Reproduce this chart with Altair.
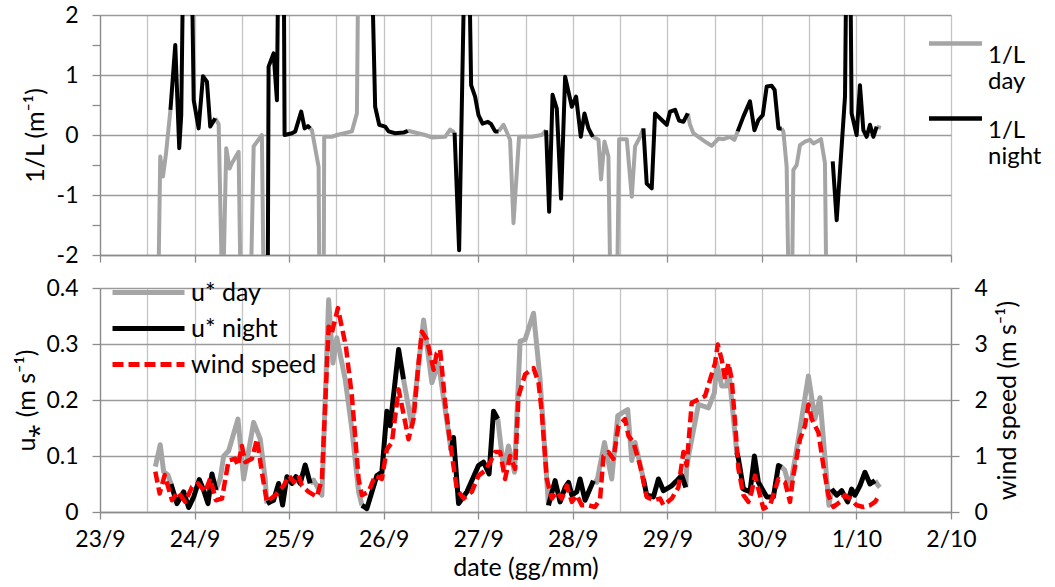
import json
import altair as alt
import pandas as pd

# ---------------- data (time = days since 23/9 00:00) ----------------
DATE_LABELS = ["23/9", "24/9", "25/9", "26/9", "27/9", "28/9", "29/9", "30/9", "1/10", "2/10"]

# 1/L (m-1), day periods (segments)
INVL_DAY = [
    [(0.613, -3), (0.637, -0.36), (0.666, -0.69), (0.698, -0.31), (0.745, 0.42)],
    [(1.219, 0.28), (1.255, 0.18), (1.297, -3), (1.335, -0.22), (1.371, -0.56), (1.395, -0.47),
     (1.466, -0.28), (1.491, -3), (1.589, -3), (1.625, -0.19), (1.712, 0.0), (1.734, -3)],
    [(2.223, 0.11), (2.241, 0.08), (2.312, -0.53), (2.322, -3), (2.365, -3), (2.371, -0.03),
     (2.452, -0.03), (2.505, 0.0), (2.664, 0.06), (2.717, 0.36), (2.735, 3.5)],
    [(3.256, 0.07), (3.439, 0.0), (3.510, -0.04), (3.650, -0.03), (3.703, 0.09), (3.750, 0.04)],
    [(4.215, 0.06), (4.268, 0.17), (4.337, -0.08), (4.373, -1.47), (4.432, -0.03), (4.567, -0.03),
     (4.672, 0.0), (4.718, 0.08)],
    [(5.212, -0.03), (5.272, -0.08), (5.299, -0.74), (5.335, -0.11), (5.377, -0.36), (5.402, -3),
     (5.465, -3), (5.490, -0.07), (5.571, -0.07), (5.624, -1.03), (5.659, -0.19), (5.712, -0.03),
     (5.747, 0.11)],
    [(6.216, 0.36), (6.240, 0.17), (6.276, 0.03), (6.329, -0.03), (6.399, -0.11), (6.469, -0.18),
     (6.540, -0.06), (6.593, -0.07), (6.663, -0.03), (6.709, -0.08), (6.744, 0.06)],
    [(7.209, 0.11), (7.227, 0.06), (7.262, -0.53), (7.287, -3), (7.315, -3), (7.333, -0.58),
     (7.368, -0.5), (7.403, -0.17), (7.456, -0.11), (7.509, -0.08), (7.545, -0.14), (7.625, -0.07),
     (7.667, -0.47), (7.685, -3), (7.738, -3)],
    [(8.214, 0.14), (8.259, 0.12)],
]

# 1/L (m-1), night periods (segments)
INVL_NIGHT = [
    [(0.745, 0.42), (0.796, 1.5), (0.838, -0.22), (0.859, 0.33), (0.885, 3.5), (0.965, 3.5),
     (0.991, 0.58), (1.043, 0.11), (1.089, 0.98), (1.131, 0.89), (1.166, 0.14), (1.219, 0.28)],
    [(1.773, -3), (1.783, 1.14), (1.836, 1.36), (1.871, 0.58), (1.889, 3.5), (1.942, 3.5),
     (1.952, 0.0), (2.030, 0.03), (2.065, 0.06), (2.128, 0.39), (2.164, 0.11), (2.199, 0.15),
     (2.223, 0.11)],
    [(2.865, 3.5), (2.910, 0.47), (2.953, 0.17), (3.016, 0.14), (3.052, 0.06), (3.122, 0.03),
     (3.210, 0.04), (3.256, 0.07)],
    [(3.750, 0.04), (3.798, -1.92), (3.862, 3.5), (3.898, 3.5), (3.925, 0.83), (3.967, 0.64),
     (4.003, 0.33), (4.046, 0.19), (4.102, 0.22), (4.137, 0.18), (4.179, 0.06), (4.215, 0.06)],
    [(4.718, 0.08), (4.750, -1.28), (4.786, 0.67), (4.831, 0.44), (4.876, -1.06), (4.919, 0.97),
     (4.990, 0.47), (5.035, 0.64), (5.085, -0.03), (5.124, 0.36), (5.166, 0.11), (5.212, -0.03)],
    [(5.747, 0.11), (5.782, -0.81), (5.835, -0.89), (5.870, 0.36), (5.941, 0.25), (5.994, 0.17),
     (6.029, 0.39), (6.082, 0.42), (6.124, 0.24), (6.170, 0.22), (6.216, 0.36)],
    [(6.744, 0.06), (6.805, 0.31), (6.874, 0.56), (6.921, 0.08), (6.963, 0.25), (7.009, 0.33),
     (7.051, 0.81), (7.104, 0.82), (7.135, 0.75), (7.175, 0.11), (7.209, 0.11)],
    [(7.749, -0.44), (7.791, -1.42), (7.879, 0.64), (7.897, 3.5), (7.932, 3.5), (7.949, 0.36),
     (8.002, 0.0), (8.037, 0.83), (8.073, 0.08), (8.108, -0.03), (8.143, 0.17), (8.179, -0.03),
     (8.214, 0.14)],
]

# u* (m s-1), day periods
U_DAY = [
    [(0.585, 0.081), (0.637, 0.12), (0.673, 0.072), (0.719, 0.066), (0.751, 0.05)],
    [(1.226, 0.039), (1.272, 0.06), (1.308, 0.10), (1.360, 0.109), (1.459, 0.166), (1.519, 0.059),
     (1.625, 0.16), (1.695, 0.13), (1.747, 0.059), (1.765, 0.015)],
    [(2.223, 0.051), (2.259, 0.057), (2.347, 0.03), (2.418, 0.379), (2.463, 0.266), (2.505, 0.311),
     (2.593, 0.237), (2.664, 0.148), (2.735, 0.036), (2.770, 0.012)],
    [(3.210, 0.237), (3.298, 0.154), (3.422, 0.343), (3.510, 0.231), (3.580, 0.266), (3.713, 0.11)],
    [(4.207, 0.166), (4.268, 0.077), (4.320, 0.118), (4.384, 0.071), (4.443, 0.305), (4.496, 0.308),
     (4.585, 0.355), (4.654, 0.237), (4.743, 0.012)],
    [(5.219, 0.056), (5.254, 0.053), (5.335, 0.124), (5.412, 0.059), (5.476, 0.172), (5.581, 0.183),
     (5.624, 0.092), (5.659, 0.124), (5.747, 0.059)],
    [(6.195, 0.044), (6.205, 0.083), (6.329, 0.192), (6.435, 0.186), (6.498, 0.213), (6.522, 0.266),
     (6.575, 0.225), (6.628, 0.225), (6.646, 0.26), (6.734, 0.107)],
    [(7.209, 0.08), (7.241, 0.075), (7.297, 0.041), (7.403, 0.148), (7.492, 0.243), (7.561, 0.166),
     (7.614, 0.204), (7.709, 0.012), (7.738, 0.041)],
    [(8.196, 0.056), (8.232, 0.047), (8.248, 0.044)],
]

# u* (m s-1), night periods
U_NIGHT = [
    [(0.751, 0.05), (0.814, 0.015), (0.885, 0.036), (0.938, 0.008), (0.991, 0.027), (1.050, 0.058),
     (1.096, 0.039), (1.142, 0.015), (1.184, 0.068), (1.226, 0.039)],
    [(1.765, 0.015), (1.836, 0.021), (1.889, 0.051), (1.931, 0.0125), (1.977, 0.063), (2.030, 0.051),
     (2.072, 0.063), (2.117, 0.051), (2.170, 0.084), (2.223, 0.051)],
    [(2.770, 0.012), (2.822, 0.006), (2.928, 0.065), (2.981, 0.071), (3.034, 0.18), (3.069, 0.154),
     (3.158, 0.29), (3.210, 0.237)],
    [(3.713, 0.11), (3.739, 0.133), (3.792, 0.015), (3.880, 0.036), (4.003, 0.083), (4.056, 0.089),
     (4.115, 0.068), (4.162, 0.18), (4.207, 0.166)],
    [(4.743, 0.012), (4.813, 0.056), (4.866, 0.018), (4.919, 0.044), (4.955, 0.053), (4.990, 0.03),
     (5.042, 0.036), (5.077, 0.059), (5.130, 0.021), (5.219, 0.056)],
    [(5.747, 0.059), (5.782, 0.03), (5.853, 0.027), (5.906, 0.059), (5.959, 0.038), (6.047, 0.047),
     (6.152, 0.065), (6.195, 0.044)],
    [(6.734, 0.107), (6.752, 0.095), (6.805, 0.041), (6.874, 0.036), (6.921, 0.1), (6.963, 0.053),
     (7.051, 0.027), (7.122, 0.027), (7.175, 0.083), (7.209, 0.08)],
    [(7.738, 0.041), (7.791, 0.03), (7.844, 0.038), (7.907, 0.018), (7.949, 0.041), (7.984, 0.03),
     (8.037, 0.047), (8.090, 0.071), (8.143, 0.05), (8.196, 0.056)],
]

# wind speed (m s-1)
WIND = [
    (0.585, 0.72), (0.631, 0.33), (0.684, 0.66), (0.761, 0.21), (0.825, 0.36), (0.902, 0.18),
    (0.973, 0.45), (1.036, 0.51), (1.113, 0.36), (1.166, 0.6), (1.226, 0.21), (1.290, 0.24),
    (1.360, 0.92), (1.430, 0.95), (1.459, 0.83), (1.501, 1.18), (1.536, 0.89), (1.607, 0.95),
    (1.660, 1.30), (1.712, 0.71), (1.765, 0.18), (1.853, 0.30), (1.942, 0.47), (2.001, 0.65),
    (2.048, 0.53), (2.100, 0.65), (2.135, 0.47), (2.206, 0.36), (2.294, 0.27), (2.347, 0.59),
    (2.418, 3.31), (2.452, 3.2), (2.516, 3.64), (2.600, 2.96), (2.664, 2.07), (2.735, 0.59),
    (2.770, 0.30), (2.840, 0.36), (2.910, 0.65), (2.981, 0.59), (3.034, 1.12), (3.087, 1.24),
    (3.158, 2.19), (3.263, 1.30), (3.316, 1.66), (3.369, 2.66), (3.404, 3.22), (3.457, 3.08),
    (3.528, 2.54), (3.562, 2.84), (3.597, 2.9), (3.650, 1.95), (3.703, 1.24), (3.774, 0.41),
    (3.845, 0.24), (3.932, 0.36), (4.003, 0.65), (4.073, 0.74), (4.126, 0.89), (4.179, 1.07),
    (4.232, 1.07), (4.284, 0.59), (4.337, 1.0), (4.390, 0.77), (4.426, 2.07), (4.496, 2.46),
    (4.585, 2.57), (4.638, 2.31), (4.672, 1.78), (4.725, 0.59), (4.778, 0.24), (4.831, 0.36),
    (4.884, 0.24), (4.937, 0.47), (4.990, 0.18), (5.042, 0.3), (5.095, 0.12), (5.166, 0.12),
    (5.236, 0.09), (5.289, 0.24), (5.325, 1.0), (5.377, 1.07), (5.430, 0.95), (5.483, 1.54),
    (5.553, 1.66), (5.589, 1.36), (5.642, 1.24), (5.712, 0.83), (5.782, 0.27), (5.853, 0.21),
    (5.923, 0.24), (5.959, 0.12), (6.047, 0.24), (6.117, 0.44), (6.170, 1.07), (6.205, 0.83),
    (6.258, 1.95), (6.329, 2.01), (6.399, 2.07), (6.505, 2.66), (6.533, 2.99), (6.575, 2.72),
    (6.610, 2.37), (6.646, 2.66), (6.681, 2.37), (6.716, 1.6), (6.752, 0.77), (6.805, 0.30),
    (6.858, 0.18), (6.892, 0.36), (6.927, 0.65), (7.016, 0.06), (7.086, 0.12), (7.175, 0.59),
    (7.245, 0.53), (7.297, 0.18), (7.333, 0.65), (7.403, 1.3), (7.456, 1.54), (7.492, 1.92),
    (7.527, 1.66), (7.598, 1.42), (7.650, 0.83), (7.703, 0.3), (7.756, 0.09), (7.826, 0.18),
    (7.879, 0.30), (7.932, 0.24), (8.002, 0.12), (8.073, 0.09), (8.143, 0.12), (8.196, 0.18),
    (8.232, 0.27),
]

SERIES_TOP = ["1/L day", "1/L night"]
SERIES_BOT = ["u* day", "u* night", "wind speed"]
GRAY, BLACK, RED = "#A5A5A5", "#000000", "#FF0000"


def frame(segments, series):
    rows = []
    for i, seg in enumerate(segments):
        for t, v in seg:
            rows.append({"t": t, "v": v, "seg": f"{series}-{i}", "series": series})
    return pd.DataFrame(rows)


top_df = pd.concat([frame(INVL_DAY, SERIES_TOP[0]), frame(INVL_NIGHT, SERIES_TOP[1])])
u_df = pd.concat([frame(U_DAY, SERIES_BOT[0]), frame(U_NIGHT, SERIES_BOT[1])])
w_df = frame([WIND], SERIES_BOT[2])

FONT = "Lato"
FS_LABEL = 23
FS_TITLE = 25
W = 851
GRID_DARK = "#9A9A9A"
GRID_LIGHT = "#C4C4C4"
AX = "#8C8C8C"
LONG_LINE = "M-2,0H2"   # legend line symbol, twice as long as its nominal size

half_days = [i / 2 for i in range(19)]
whole = "datum.value % 1 == 0"
label_expr = f"{whole} ? {json.dumps(DATE_LABELS)}[round(datum.value)] : ''"
tick_cond = {"condition": {"test": whole, "value": 1}, "value": 0}

x_scale = alt.Scale(domain=[0, 9], nice=False, zero=False)

# ---------------- top panel: 1/L ----------------
x_top = alt.X(
    "t:Q", scale=x_scale,
    axis=alt.Axis(values=half_days, labels=False, title=None, grid=True, gridColor=GRID_LIGHT,
                  gridWidth=1.3, ticks=True, tickSize=7, tickColor=AX, tickWidth=1.3,
                  tickOpacity=tick_cond, domain=True, domainColor=AX, domainWidth=1.3),
)
y_top = alt.Y(
    "v:Q", scale=alt.Scale(domain=[-2, 2], nice=False, zero=False),
    axis=alt.Axis(values=[-2, -1.5, -1, -0.5, 0, 0.5, 1, 1.5, 2],
                  labelExpr=f"{whole} ? toString(datum.value) : ''",
                  gridOpacity={"condition": {"test": whole, "value": 1}, "value": 0},
                  grid=True, gridColor=GRID_DARK, gridWidth=1.3,
                  tickSize=8, tickColor=AX, tickWidth=1.3, domainColor=AX, domainWidth=1.3,
                  labelPadding=14, title="1/L (m⁻¹)", titlePadding=8),
)
top = alt.Chart(top_df).mark_line(strokeWidth=4, clip=True, strokeJoin="round").encode(
    x=x_top, y=y_top, detail="seg:N",
    color=alt.Color("series:N", scale=alt.Scale(domain=SERIES_TOP, range=[GRAY, BLACK]),
                    legend=alt.Legend(title=None, orient="none", legendX=840, legendY=13,
                                      symbolType=LONG_LINE, symbolSize=702, symbolStrokeWidth=4.5,
                                      labelExpr="split(datum.label, ' ')", labelBaseline="top",
                                      labelOffset=17, rowPadding=9, labelFontSize=24)),
    order=alt.Order("t:Q"),
).properties(width=W, height=240)

# ---------------- bottom panel: u* and wind ----------------
x_bot = alt.X(
    "t:Q", scale=x_scale,
    axis=alt.Axis(values=half_days, labelExpr=label_expr, title="date (gg/mm)", grid=True,
                  gridColor=GRID_LIGHT, gridWidth=1.3, ticks=True, tickSize=7, tickColor=AX,
                  tickWidth=1.3, tickOpacity=tick_cond, domainColor=AX, domainWidth=1.3,
                  labelPadding=9, titlePadding=4, labelOverlap=False, labelFlush=False),
)
LEG_BOT = dict(title=None, orient="none", legendX=28, legendY=-16, symbolType=LONG_LINE,
               symbolSize=1296, symbolStrokeWidth=5, rowPadding=2, labelOffset=22,
               labelFontSize=25)
color_bot = alt.Color("series:N", scale=alt.Scale(domain=SERIES_BOT, range=[GRAY, BLACK, RED]),
                      legend=alt.Legend(**LEG_BOT))
dash_bot = alt.StrokeDash("series:N", scale=alt.Scale(domain=SERIES_BOT,
                                                      range=[[1, 0], [1, 0], [11, 5]]),
                          legend=alt.Legend(**LEG_BOT))

u_layer = alt.Chart(u_df).mark_line(strokeWidth=5, clip=True, strokeJoin="round").encode(
    x=x_bot,
    y=alt.Y("v:Q", scale=alt.Scale(domain=[0, 0.4], nice=False),
            axis=alt.Axis(values=[0, 0.1, 0.2, 0.3, 0.4],
                          labelExpr="datum.value == 0 ? '0' : format(datum.value, '.1f')",
                          grid=True, gridColor=GRID_DARK, gridWidth=1.3, tickSize=8, tickColor=AX,
                          tickWidth=1.3, domainColor=AX, domainWidth=1.3, labelPadding=14,
                          title="u⁎ (m s⁻¹)", titlePadding=6)),
    detail="seg:N", color=color_bot, strokeDash=dash_bot, order=alt.Order("t:Q"),
)
w_layer = alt.Chart(w_df).mark_line(strokeWidth=4.5, clip=True, strokeJoin="round").encode(
    x=x_bot,
    y=alt.Y("v:Q", scale=alt.Scale(domain=[0, 4], nice=False),
            axis=alt.Axis(values=[0, 1, 2, 3, 4], orient="right", grid=False, tickSize=8,
                          tickColor=AX, tickWidth=1.3, domainColor=AX, domainWidth=1.3,
                          labelPadding=15, title="wind speed (m s⁻¹)", titleAngle=270,
                          titleBaseline="top", titlePadding=8)),
    detail="seg:N", color=color_bot, strokeDash=dash_bot, order=alt.Order("t:Q"),
)
bottom = alt.layer(u_layer, w_layer).resolve_scale(y="independent").properties(width=W, height=224)

chart = alt.vconcat(top, bottom, spacing=33, bounds="flush").resolve_scale(
    color="independent", strokeDash="independent"
).properties(
    padding={"left": 14, "top": 4, "right": 0, "bottom": 0}
).configure_view(stroke=None).configure_axis(
    labelFont=FONT, titleFont=FONT, labelFontSize=FS_LABEL, titleFontSize=FS_TITLE,
    labelColor="black", titleColor="black", titleFontWeight="normal",
).configure_legend(labelFont=FONT, labelColor="black")

chart.save("out.html", embed_options={"renderer": "svg", "actions": False})
